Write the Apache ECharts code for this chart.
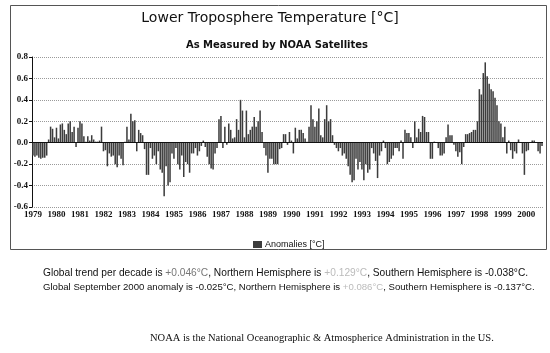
<!DOCTYPE html>
<html>
<head>
<meta charset="utf-8">
<script src="https://cdn.jsdelivr.net/npm/echarts@6/dist/echarts.min.js"></script>
<style>
  html, body { margin: 0; padding: 0; background: #fff; }
  #chart { width: 550px; height: 353px; }
</style>
</head>
<body>
<div id="chart"></div>
<script>
// monthly anomalies, Jan 1979 - Sep 2000
var a1979 = [-0.12, -0.13, -0.12, -0.14, -0.15, -0.14, -0.14, -0.12, 0.03, 0.15, 0.13, 0.05];
var a1980 = [0.14, 0.04, 0.17, 0.18, 0.12, 0.08, 0.18, 0.20, 0.10, 0.15, -0.04, 0.14];
var a1981 = [0.20, 0.18, 0.06, 0.01, 0.06, 0.02, 0.07, 0.03, 0.01, 0.01, 0.02, 0.15];
var a1982 = [-0.08, -0.07, -0.22, -0.10, -0.13, -0.12, -0.20, -0.23, -0.12, -0.15, -0.21, 0.01];
var a1983 = [0.15, 0.03, 0.27, 0.20, 0.21, -0.08, 0.12, 0.09, 0.07, -0.06, -0.30, -0.30];
var a1984 = [-0.05, -0.15, -0.12, -0.20, -0.08, -0.25, -0.28, -0.50, -0.22, -0.40, -0.37, -0.10];
var a1985 = [-0.15, -0.05, -0.20, -0.25, -0.12, -0.32, -0.18, -0.20, -0.28, -0.10, -0.10, -0.05];
var a1986 = [-0.12, -0.08, -0.03, 0.02, -0.04, -0.13, -0.20, -0.24, -0.25, -0.10, -0.05, 0.22];
var a1987 = [0.25, -0.05, 0.15, -0.02, 0.18, 0.12, 0.04, 0.05, 0.22, 0.12, 0.40, 0.30];
var a1988 = [0.05, 0.30, 0.08, 0.12, 0.15, 0.24, 0.15, 0.20, 0.30, 0.10, -0.05, -0.12];
var a1989 = [-0.28, -0.15, -0.15, -0.20, -0.20, -0.20, -0.06, -0.05, 0.08, 0.08, -0.02, 0.10];
var a1990 = [0.02, -0.10, 0.14, 0.04, 0.12, 0.12, 0.09, 0.04, 0.01, 0.15, 0.35, 0.22];
var a1991 = [0.15, 0.20, 0.32, 0.07, 0.05, 0.22, 0.35, 0.20, 0.22, 0.07, -0.02, -0.05];
var a1992 = [-0.08, -0.05, -0.12, -0.10, -0.15, -0.22, -0.30, -0.37, -0.35, -0.15, -0.25, -0.18];
var a1993 = [-0.25, -0.35, -0.20, -0.28, -0.25, -0.05, -0.10, -0.17, -0.33, -0.12, -0.08, 0.02];
var a1994 = [-0.05, -0.20, -0.18, -0.15, -0.12, -0.05, -0.05, -0.08, 0.02, -0.15, 0.12, 0.09];
var a1995 = [0.09, 0.05, -0.05, 0.20, 0.05, 0.13, 0.10, 0.25, 0.24, 0.10, 0.10, -0.15];
var a1996 = [-0.15, 0.01, 0.00, -0.05, -0.12, -0.12, -0.10, 0.05, 0.17, 0.07, 0.07, -0.02];
var a1997 = [-0.08, -0.13, -0.09, -0.20, -0.04, 0.08, 0.08, 0.09, 0.10, 0.12, 0.12, 0.20];
var a1998 = [0.50, 0.45, 0.65, 0.75, 0.62, 0.55, 0.50, 0.48, 0.42, 0.35, 0.20, 0.18];
var a1999 = [0.05, 0.15, -0.10, 0.02, -0.07, -0.15, -0.08, -0.10, 0.03, 0.00, -0.10, -0.30];
var a2000 = [-0.08, -0.07, 0.00, 0.02, 0.02, 0.00, -0.08, -0.10, -0.03];

var years = [1979, 1980, 1981, 1982, 1983, 1984, 1985, 1986, 1987, 1988, 1989,
  1990, 1991, 1992, 1993, 1994, 1995, 1996, 1997, 1998, 1999, 2000];
var yearData = [a1979, a1980, a1981, a1982, a1983, a1984, a1985, a1986, a1987, a1988, a1989,
  a1990, a1991, a1992, a1993, a1994, a1995, a1996, a1997, a1998, a1999, a2000];

var months = [];
var anomalies = [];
for (var i = 0; i < years.length; i++) {
  for (var m = 0; m < yearData[i].length; m++) {
    months.push(years[i] + "-" + (m + 1));
    anomalies.push(yearData[i][m]);
  }
}

var chart = echarts.init(document.getElementById("chart"));

var option = {
  backgroundColor: "#fff",
  animation: false,
  title: [
    {
      text: "Lower Troposphere Temperature [°C]",
      left: 265, top: 6, textAlign: "center",
      textStyle: { fontFamily: "DejaVu Sans", fontSize: 14, fontWeight: "normal", color: "#111" }
    },
    {
      text: "As Measured by NOAA Satellites",
      left: 272, top: 35, textAlign: "center",
      textStyle: { fontFamily: "DejaVu Sans", fontSize: 10, fontWeight: "bold", color: "#111" }
    }
  ],
  legend: {
    left: 248, top: 235,
    itemWidth: 9, itemHeight: 7, itemGap: 4,
    textStyle: { fontFamily: "Liberation Sans", fontSize: 9, color: "#111", padding: [0, 0, 0, -2] },
    data: [{ name: "Anomalies [°C]", icon: "rect" }]
  },
  grid: { left: 32, right: 7, top: 57, bottom: 146 },
  xAxis: {
    type: "category",
    data: months,
    axisLine: { show: false, onZero: false },
    axisTick: { show: false },
    axisLabel: {
      interval: function (index) { return index % 12 === 0; },
      formatter: function (v) { return v.slice(0, 4); },
      fontFamily: "Liberation Sans Narrow",
      fontWeight: "bold",
      fontSize: 9,
      color: "#111",
      margin: 3
    }
  },
  yAxis: {
    type: "value",
    min: -0.6, max: 0.8, interval: 0.2,
    axisLine: { show: true, lineStyle: { color: "#111" } },
    axisTick: { show: true, length: 3, lineStyle: { color: "#111" } },
    axisLabel: {
      formatter: function (v) { return v.toFixed(1); },
      fontFamily: "Liberation Sans Narrow",
      fontWeight: "bold",
      fontSize: 9,
      color: "#111",
      margin: 4
    },
    splitLine: { show: true, lineStyle: { type: "dotted", color: "#9a9a9a" } }
  },
  series: [
    {
      name: "Anomalies [°C]",
      type: "bar",
      data: anomalies,
      barCategoryGap: "22%",
      itemStyle: { color: "#3c3c3c" },
      markLine: {
        silent: true,
        symbol: "none",
        label: { show: false },
        lineStyle: { color: "#111", type: "solid", width: 1 },
        data: [{ yAxis: 0 }]
      }
    }
  ],
  graphic: [
    {
      type: "rect",
      shape: { x: 10.5, y: 5.5, width: 536, height: 244 },
      style: { fill: null, stroke: "#555", lineWidth: 1 },
      silent: true
    },
    {
      type: "text", left: 43, top: 268,
      style: {
        text: "Global trend per decade is {m|+0.046°C}, Northern Hemisphere is {g|+0.129°C}, Southern Hemisphere is -0.038°C.",
        font: "10.2px 'Liberation Sans'", fill: "#111",
        rich: { m: { fill: "#777", font: "10.2px 'Liberation Sans'" }, g: { fill: "#bbb", font: "10.2px 'Liberation Sans'" } }
      }
    },
    {
      type: "text", left: 43, top: 282,
      style: {
        text: "Global September 2000 anomaly is -0.025°C, Northern Hemisphere is {g|+0.086°C}, Southern Hemisphere is -0.137°C.",
        font: "9.6px 'Liberation Sans'", fill: "#111",
        rich: { g: { fill: "#bbb", font: "9.6px 'Liberation Sans'" } }
      }
    },
    {
      type: "text", left: 150, top: 333,
      style: {
        text: "NOAA is the National Oceanographic & Atmospherice Administration in the US.",
        font: "10.5px 'Liberation Serif'", fill: "#111"
      }
    }
  ]
};

chart.setOption(option);
</script>
</body>
</html>
